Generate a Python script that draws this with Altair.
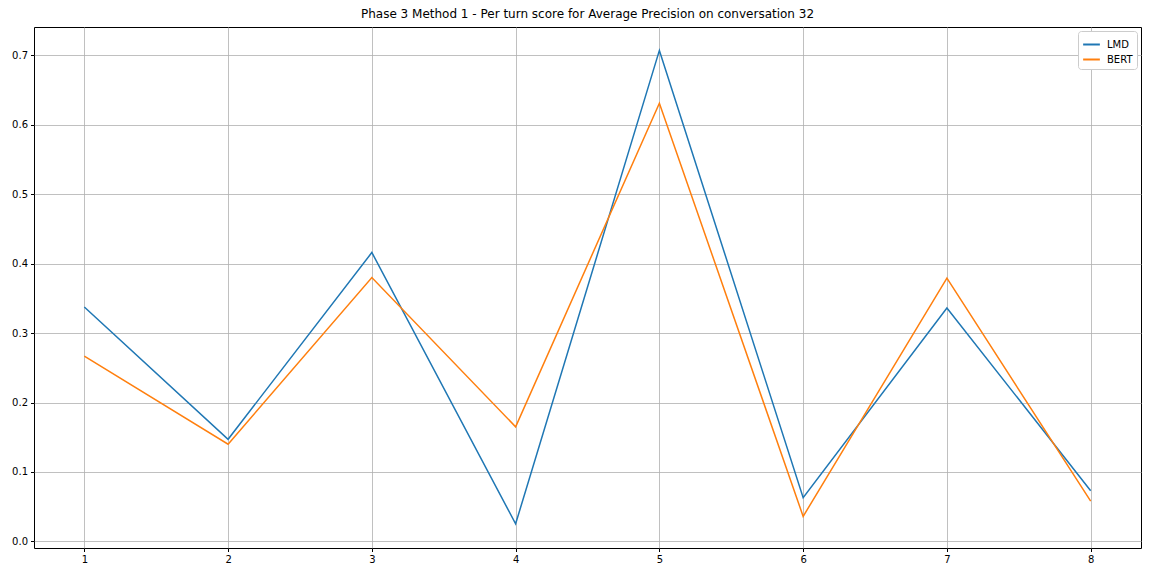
import altair as alt
import pandas as pd

turns = [1, 2, 3, 4, 5, 6, 7, 8]
lmd = [0.3375, 0.147, 0.416, 0.0253, 0.707, 0.063, 0.336, 0.073]
bert = [0.2667, 0.140, 0.380, 0.165, 0.631, 0.036, 0.379, 0.058]

rows = []
for t, v in zip(turns, lmd):
    rows.append({"turn": t, "score": v, "model": "LMD"})
for t, v in zip(turns, bert):
    rows.append({"turn": t, "score": v, "model": "BERT"})
df = pd.DataFrame(rows)

chart = alt.Chart(df).mark_line(strokeWidth=1.5).encode(
    x=alt.X("turn:Q", scale=alt.Scale(domain=[0.65, 8.35], nice=False, zero=False),
            axis=alt.Axis(values=turns, format="d", title=None)),
    y=alt.Y("score:Q", scale=alt.Scale(domain=[-0.0095, 0.7407], nice=False, zero=False),
            axis=alt.Axis(values=[0, 0.1, 0.2, 0.3, 0.4, 0.5, 0.6, 0.7], format=".1f", title=None)),
    color=alt.Color("model:N", scale=alt.Scale(domain=["LMD", "BERT"], range=["#1f77b4", "#ff7f0e"]),
                    legend=alt.Legend(title=None, orient="top-right", offset=4,
                                      symbolType="stroke", symbolSize=280, symbolStrokeWidth=2,
                                      fillColor="white", strokeColor="#cccccc", padding=4,
                                      cornerRadius=3, labelFontSize=10, labelFont="DejaVu Sans",
                                      rowPadding=0, labelOffset=6)),
).properties(
    width=1107, height=521,
    title=alt.TitleParams("Phase 3 Method 1 - Per turn score for Average Precision on conversation 32",
                          font="DejaVu Sans", fontSize=12, fontWeight="normal", offset=6),
    autosize=alt.AutoSizeParams(type="none"),
    padding={"left": 26, "top": 19, "right": 2, "bottom": 18},
).configure_view(
    stroke="black", strokeWidth=1
).configure_axis(
    grid=True, gridColor="#b0b0b0", gridWidth=0.8,
    domain=False, tickColor="black", tickSize=3.5,
    labelFont="DejaVu Sans", labelFontSize=10, labelColor="black", labelPadding=3,
)

chart.save("out.html", embed_options={"renderer": "svg", "actions": False})
